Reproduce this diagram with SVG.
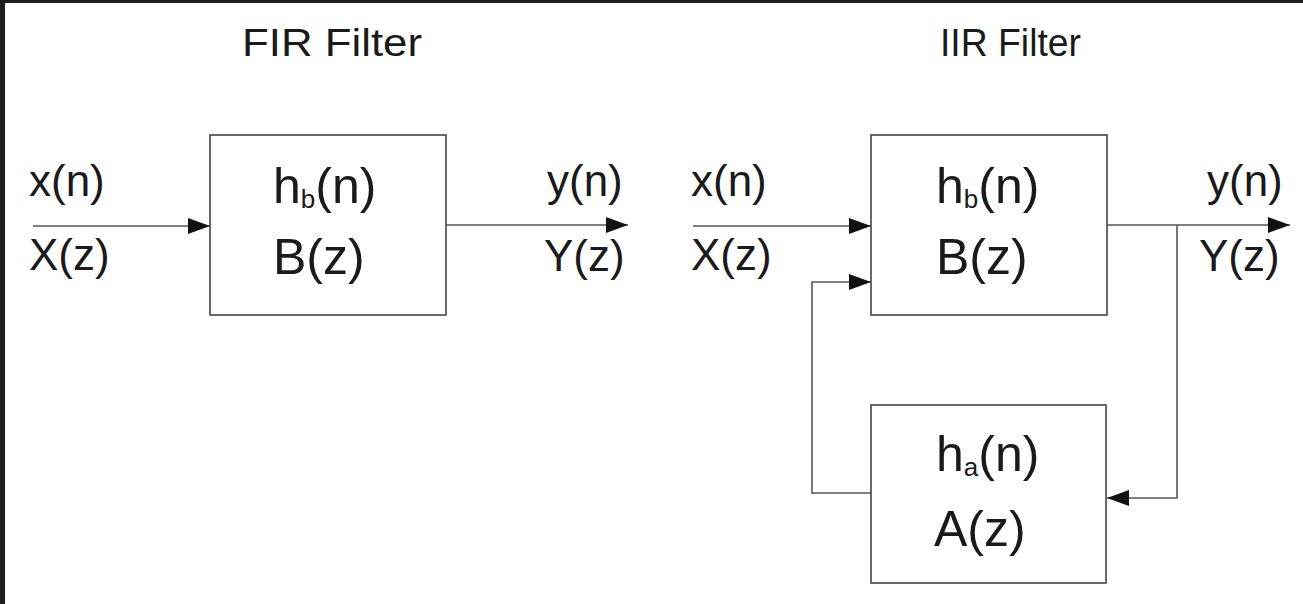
<svg xmlns="http://www.w3.org/2000/svg" width="1303" height="604" viewBox="0 0 1303 604">
  <defs>
    <marker id="arrow" viewBox="0 0 22 16" refX="22" refY="8" markerWidth="22" markerHeight="16" markerUnits="userSpaceOnUse" orient="auto">
      <path d="M0,0 L22,8 L0,16 Z" fill="#111"/>
    </marker>
    <style>
      .frame { fill: #1e1e1e; }
      .box { fill: #fff; stroke: #444; stroke-width: 1.6; }
      .wire { fill: none; stroke: #555; stroke-width: 1.6; }
      .t { font-family: "Liberation Sans", Arial, sans-serif; fill: #1a1a1a; }
      .title { font-size: 38px; }
      .lbl { font-size: 50px; }
      .sig { font-size: 44px; }
      .sub { font-size: 26px; }
    </style>
  </defs>

  <rect width="1303" height="604" fill="#fff"/>
  <!-- dark window edge -->
  <rect class="frame" x="0" y="0" width="1303" height="3"/>
  <rect class="frame" x="0" y="0" width="5" height="604"/>

  <!-- titles -->
  <text class="t title" x="242" y="56" textLength="180" lengthAdjust="spacingAndGlyphs">FIR Filter</text>
  <text class="t title" x="940" y="56" textLength="141" lengthAdjust="spacingAndGlyphs">IIR Filter</text>

  <!-- connectors -->
  <g id="connectors">
    <line class="wire" x1="33" y1="226" x2="210" y2="226" marker-end="url(#arrow)"/>
    <line class="wire" x1="446" y1="225" x2="628" y2="225" marker-end="url(#arrow)"/>
    <line class="wire" x1="693" y1="226" x2="871" y2="226" marker-end="url(#arrow)"/>
    <line class="wire" x1="1107" y1="225" x2="1290" y2="225" marker-end="url(#arrow)"/>
    <polyline class="wire" points="1177,225 1177,498 1107,498" marker-end="url(#arrow)"/>
    <polyline class="wire" points="871,493 812,493 812,282 871,282" marker-end="url(#arrow)"/>
  </g>

  <!-- signal labels -->
  <g id="fir-signals">
    <text class="t sig" x="29" y="196">x(n)</text>
    <text class="t sig" x="29" y="270">X(z)</text>
    <text class="t sig" x="547" y="196">y(n)</text>
    <text class="t sig" x="544" y="271">Y(z)</text>
  </g>
  <g id="iir-signals">
    <text class="t sig" x="691" y="196">x(n)</text>
    <text class="t sig" x="691" y="270">X(z)</text>
    <text class="t sig" x="1207" y="196">y(n)</text>
    <text class="t sig" x="1199" y="271">Y(z)</text>
  </g>

  <!-- FIR filter block -->
  <g id="fir-b">
    <rect class="box" x="210" y="135" width="236" height="180"/>
    <text class="t lbl" x="273" y="203">h<tspan class="sub" dy="5">b</tspan><tspan dy="-5">(n)</tspan></text>
    <text class="t lbl" x="273" y="274">B(z)</text>
  </g>

  <!-- IIR feed-forward block -->
  <g id="iir-b">
    <rect class="box" x="871" y="135" width="236" height="180"/>
    <text class="t lbl" x="936" y="203">h<tspan class="sub" dy="5">b</tspan><tspan dy="-5">(n)</tspan></text>
    <text class="t lbl" x="936" y="274">B(z)</text>
  </g>

  <!-- IIR feedback block -->
  <g id="iir-a">
    <rect class="box" x="871" y="405" width="235" height="178"/>
    <text class="t lbl" x="936" y="471">h<tspan class="sub" dy="5">a</tspan><tspan dy="-5">(n)</tspan></text>
    <text class="t lbl" x="934" y="546">A(z)</text>
  </g>
</svg>
